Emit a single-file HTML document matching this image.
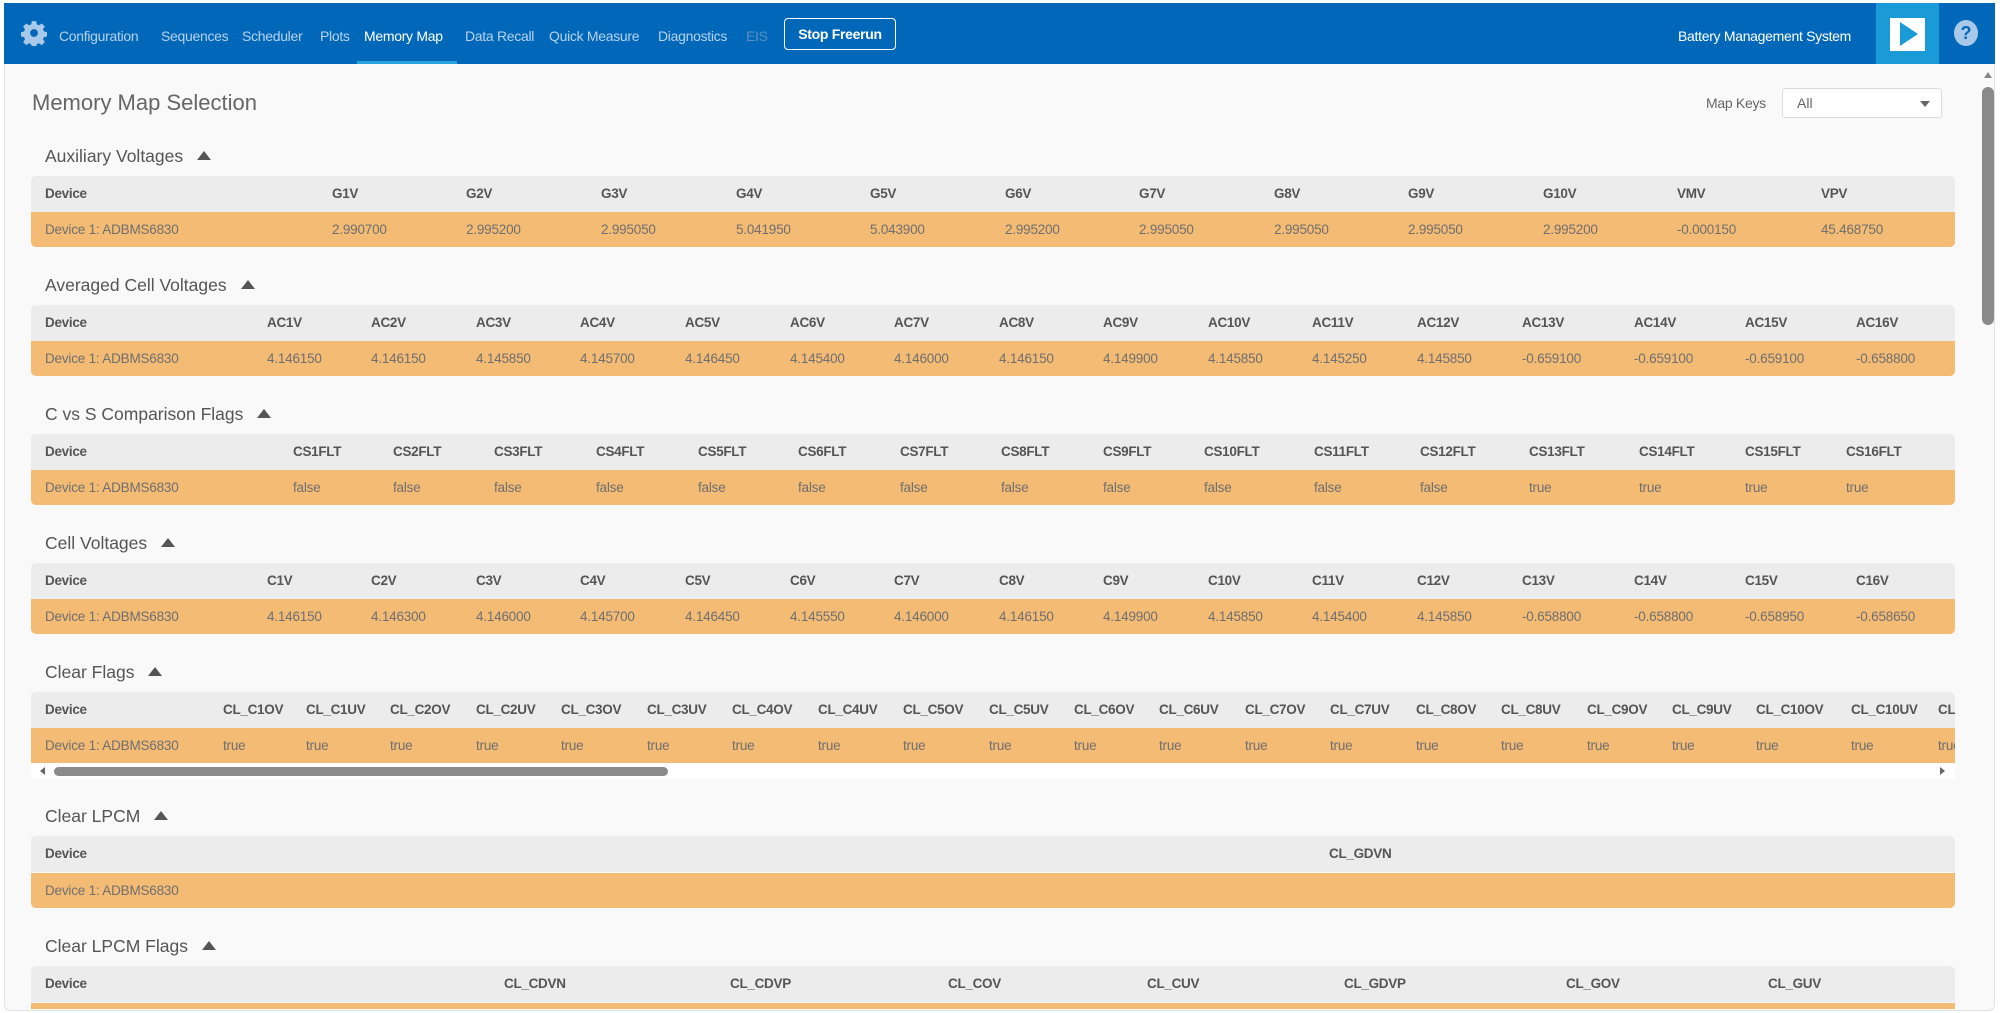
<!DOCTYPE html>
<html><head><meta charset="utf-8">
<style>
*{margin:0;padding:0;box-sizing:border-box}
body{width:2000px;height:1013px;overflow:hidden;background:#fff;font-family:"Liberation Sans",sans-serif;position:relative}
.a{position:absolute;white-space:nowrap}
#top{position:absolute;left:4px;top:3px;width:1991px;height:61px;background:#0168b9}
.nav{position:absolute;top:25px;font-size:14px;letter-spacing:-0.3px;color:#b5d2ee}
#main{position:absolute;left:4px;top:64px;width:1991px;height:947px;background:#f9f9f9;border:1px solid #e2e2e2;border-top:none;border-radius:0 0 6px 6px;overflow:hidden}
.sec{position:absolute;left:45px;font-size:17.5px;color:#555}
.tri{display:inline-block;width:0;height:0;border-left:7px solid transparent;border-right:7px solid transparent;border-bottom:9px solid #555;margin-left:14px;vertical-align:2px}
.hd{position:absolute;left:31px;width:1924px;height:36px;background:#ececec;border-radius:5px 5px 0 0}
.dt{position:absolute;left:31px;width:1924px;height:35px;background:#f4bb74;border-radius:0 0 5px 5px}
.hd span{position:absolute;top:10px;font-size:13.5px;font-weight:bold;color:#555;white-space:nowrap;letter-spacing:-0.3px}
.dt span{position:absolute;top:10px;font-size:13.5px;color:#6f6f6f;white-space:nowrap;letter-spacing:-0.2px}
</style></head><body>
<div id="top">
 <svg class="a" style="left:17px;top:17px" width="26" height="26" viewBox="0 0 24 24"><path fill="#a9c9ea" d="M10 1h4l.6 3 2 .9 2.6-1.7 2.8 2.8-1.7 2.6.9 2 3 .6v4l-3 .6-.9 2 1.7 2.6-2.8 2.8-2.6-1.7-2 .9-.6 3h-4l-.6-3-2-.9-2.6 1.7-2.8-2.8 1.7-2.6-.9-2-3-.6v-4l3-.6.9-2-1.7-2.6 2.8-2.8 2.6 1.7 2-.9z"/><circle cx="12" cy="12" r="3.6" fill="#0168b9"/></svg>
 <span class="nav" style="left:55px">Configuration</span>
 <span class="nav" style="left:157px">Sequences</span>
 <span class="nav" style="left:238px">Scheduler</span>
 <span class="nav" style="left:316px">Plots</span>
 <span class="nav" style="left:360px;color:#fff">Memory Map</span>
 <div class="a" style="left:353px;top:58px;width:100px;height:3px;background:#29a3dd"></div>
 <span class="nav" style="left:461px">Data Recall</span>
 <span class="nav" style="left:545px">Quick Measure</span>
 <span class="nav" style="left:654px">Diagnostics</span>
 <span class="nav" style="left:742px;color:#5a8fc4">EIS</span>
 <div class="a" style="left:780px;top:15px;width:112px;height:32px;border:1px solid #fff;border-radius:4px;color:#fff;font-size:14px;font-weight:bold;text-align:center;line-height:30px;letter-spacing:-0.3px">Stop Freerun</div>
 <span class="nav" style="left:1674px;color:#fff;font-size:14px">Battery Management System</span>
 <div class="a" style="left:1872px;top:0;width:63px;height:61px;background:#1a9ad6"></div>
 <div class="a" style="left:1886px;top:15px;width:35px;height:33px;background:#fff"></div>
 <div class="a" style="left:1896px;top:19px;width:0;height:0;border-top:12px solid transparent;border-bottom:12px solid transparent;border-left:18px solid #1a9ad6"></div>
 <div class="a" style="left:1950px;top:17px;width:24px;height:26px;border-radius:50%;background:#a9c9ea;color:#0168b9;font-weight:bold;font-size:18px;text-align:center;line-height:26px">?</div>
</div>
<div id="main">
 <span class="a" style="left:27px;top:26px;font-size:22px;color:#666">Memory Map Selection</span>
 <span class="a" style="left:1701px;top:31px;font-size:14px;color:#666;letter-spacing:-0.3px">Map Keys</span>
 <div class="a" style="left:1777px;top:24px;width:160px;height:30px;background:#fff;border:1px solid #ddd;border-radius:3px"><span class="a" style="left:14px;top:6px;font-size:14px;color:#666">All</span><div class="a" style="left:137px;top:12px;border-left:5px solid transparent;border-right:5px solid transparent;border-top:6px solid #666"></div></div>
 <div class="a" style="left:1977px;top:23px;width:12px;height:238px;background:#8a8a8a;border-radius:6px"></div>
 <div class="a" style="left:1979px;top:8px;border-left:4px solid transparent;border-right:4px solid transparent;border-bottom:6px solid #888"></div>
</div>
<div class="a" style="left:0;top:0;width:2000px;height:1013px">
<div class="sec" style="top:146px">Auxiliary Voltages<span class="tri"></span></div>
<div class="hd" style="top:176px"><span style="left:14px">Device</span><span style="left:301px">G1V</span><span style="left:435px">G2V</span><span style="left:570px">G3V</span><span style="left:705px">G4V</span><span style="left:839px">G5V</span><span style="left:974px">G6V</span><span style="left:1108px">G7V</span><span style="left:1243px">G8V</span><span style="left:1377px">G9V</span><span style="left:1512px">G10V</span><span style="left:1646px">VMV</span><span style="left:1790px">VPV</span></div>
<div class="dt" style="top:212px"><span style="left:14px">Device 1: ADBMS6830</span><span style="left:301px">2.990700</span><span style="left:435px">2.995200</span><span style="left:570px">2.995050</span><span style="left:705px">5.041950</span><span style="left:839px">5.043900</span><span style="left:974px">2.995200</span><span style="left:1108px">2.995050</span><span style="left:1243px">2.995050</span><span style="left:1377px">2.995050</span><span style="left:1512px">2.995200</span><span style="left:1646px">-0.000150</span><span style="left:1790px">45.468750</span></div>
<div class="sec" style="top:275px">Averaged Cell Voltages<span class="tri"></span></div>
<div class="hd" style="top:305px"><span style="left:14px">Device</span><span style="left:236px">AC1V</span><span style="left:340px">AC2V</span><span style="left:445px">AC3V</span><span style="left:549px">AC4V</span><span style="left:654px">AC5V</span><span style="left:759px">AC6V</span><span style="left:863px">AC7V</span><span style="left:968px">AC8V</span><span style="left:1072px">AC9V</span><span style="left:1177px">AC10V</span><span style="left:1281px">AC11V</span><span style="left:1386px">AC12V</span><span style="left:1491px">AC13V</span><span style="left:1603px">AC14V</span><span style="left:1714px">AC15V</span><span style="left:1825px">AC16V</span></div>
<div class="dt" style="top:341px"><span style="left:14px">Device 1: ADBMS6830</span><span style="left:236px">4.146150</span><span style="left:340px">4.146150</span><span style="left:445px">4.145850</span><span style="left:549px">4.145700</span><span style="left:654px">4.146450</span><span style="left:759px">4.145400</span><span style="left:863px">4.146000</span><span style="left:968px">4.146150</span><span style="left:1072px">4.149900</span><span style="left:1177px">4.145850</span><span style="left:1281px">4.145250</span><span style="left:1386px">4.145850</span><span style="left:1491px">-0.659100</span><span style="left:1603px">-0.659100</span><span style="left:1714px">-0.659100</span><span style="left:1825px">-0.658800</span></div>
<div class="sec" style="top:404px">C vs S Comparison Flags<span class="tri"></span></div>
<div class="hd" style="top:434px"><span style="left:14px">Device</span><span style="left:262px">CS1FLT</span><span style="left:362px">CS2FLT</span><span style="left:463px">CS3FLT</span><span style="left:565px">CS4FLT</span><span style="left:667px">CS5FLT</span><span style="left:767px">CS6FLT</span><span style="left:869px">CS7FLT</span><span style="left:970px">CS8FLT</span><span style="left:1072px">CS9FLT</span><span style="left:1173px">CS10FLT</span><span style="left:1283px">CS11FLT</span><span style="left:1389px">CS12FLT</span><span style="left:1498px">CS13FLT</span><span style="left:1608px">CS14FLT</span><span style="left:1714px">CS15FLT</span><span style="left:1815px">CS16FLT</span></div>
<div class="dt" style="top:470px"><span style="left:14px">Device 1: ADBMS6830</span><span style="left:262px">false</span><span style="left:362px">false</span><span style="left:463px">false</span><span style="left:565px">false</span><span style="left:667px">false</span><span style="left:767px">false</span><span style="left:869px">false</span><span style="left:970px">false</span><span style="left:1072px">false</span><span style="left:1173px">false</span><span style="left:1283px">false</span><span style="left:1389px">false</span><span style="left:1498px">true</span><span style="left:1608px">true</span><span style="left:1714px">true</span><span style="left:1815px">true</span></div>
<div class="sec" style="top:533px">Cell Voltages<span class="tri"></span></div>
<div class="hd" style="top:563px"><span style="left:14px">Device</span><span style="left:236px">C1V</span><span style="left:340px">C2V</span><span style="left:445px">C3V</span><span style="left:549px">C4V</span><span style="left:654px">C5V</span><span style="left:759px">C6V</span><span style="left:863px">C7V</span><span style="left:968px">C8V</span><span style="left:1072px">C9V</span><span style="left:1177px">C10V</span><span style="left:1281px">C11V</span><span style="left:1386px">C12V</span><span style="left:1491px">C13V</span><span style="left:1603px">C14V</span><span style="left:1714px">C15V</span><span style="left:1825px">C16V</span></div>
<div class="dt" style="top:599px"><span style="left:14px">Device 1: ADBMS6830</span><span style="left:236px">4.146150</span><span style="left:340px">4.146300</span><span style="left:445px">4.146000</span><span style="left:549px">4.145700</span><span style="left:654px">4.146450</span><span style="left:759px">4.145550</span><span style="left:863px">4.146000</span><span style="left:968px">4.146150</span><span style="left:1072px">4.149900</span><span style="left:1177px">4.145850</span><span style="left:1281px">4.145400</span><span style="left:1386px">4.145850</span><span style="left:1491px">-0.658800</span><span style="left:1603px">-0.658800</span><span style="left:1714px">-0.658950</span><span style="left:1825px">-0.658650</span></div>
<div class="sec" style="top:662px">Clear Flags<span class="tri"></span></div>
<div class="hd" style="top:692px;overflow:hidden;border-radius:5px 5px 0 0"><span style="left:14px">Device</span><span style="left:192px">CL_C1OV</span><span style="left:275px">CL_C1UV</span><span style="left:359px">CL_C2OV</span><span style="left:445px">CL_C2UV</span><span style="left:530px">CL_C3OV</span><span style="left:616px">CL_C3UV</span><span style="left:701px">CL_C4OV</span><span style="left:787px">CL_C4UV</span><span style="left:872px">CL_C5OV</span><span style="left:958px">CL_C5UV</span><span style="left:1043px">CL_C6OV</span><span style="left:1128px">CL_C6UV</span><span style="left:1214px">CL_C7OV</span><span style="left:1299px">CL_C7UV</span><span style="left:1385px">CL_C8OV</span><span style="left:1470px">CL_C8UV</span><span style="left:1556px">CL_C9OV</span><span style="left:1641px">CL_C9UV</span><span style="left:1725px">CL_C10OV</span><span style="left:1820px">CL_C10UV</span><span style="left:1907px">CL_C11OV</span></div>
<div class="dt" style="top:728px;overflow:hidden;border-radius:0"><span style="left:14px">Device 1: ADBMS6830</span><span style="left:192px">true</span><span style="left:275px">true</span><span style="left:359px">true</span><span style="left:445px">true</span><span style="left:530px">true</span><span style="left:616px">true</span><span style="left:701px">true</span><span style="left:787px">true</span><span style="left:872px">true</span><span style="left:958px">true</span><span style="left:1043px">true</span><span style="left:1128px">true</span><span style="left:1214px">true</span><span style="left:1299px">true</span><span style="left:1385px">true</span><span style="left:1470px">true</span><span style="left:1556px">true</span><span style="left:1641px">true</span><span style="left:1725px">true</span><span style="left:1820px">true</span><span style="left:1907px">true</span></div>
<div class="a" style="left:31px;top:763px;width:1924px;height:16px;background:#fff"></div>
<div class="a" style="left:40px;top:767px;border-top:4px solid transparent;border-bottom:4px solid transparent;border-right:5px solid #666"></div>
<div class="a" style="left:54px;top:767px;width:614px;height:9px;background:#8a8a8a;border-radius:5px"></div>
<div class="a" style="left:1940px;top:767px;border-top:4px solid transparent;border-bottom:4px solid transparent;border-left:5px solid #666"></div>
<div class="sec" style="top:806px">Clear LPCM<span class="tri"></span></div>
<div class="hd" style="top:836px"><span style="left:14px">Device</span><span style="left:1298px">CL_GDVN</span></div>
<div class="dt" style="top:873px"><span style="left:14px">Device 1: ADBMS6830</span></div>
<div class="sec" style="top:936px">Clear LPCM Flags<span class="tri"></span></div>
<div class="hd" style="top:966px"><span style="left:14px">Device</span><span style="left:473px">CL_CDVN</span><span style="left:699px">CL_CDVP</span><span style="left:917px">CL_COV</span><span style="left:1116px">CL_CUV</span><span style="left:1313px">CL_GDVP</span><span style="left:1535px">CL_GOV</span><span style="left:1737px">CL_GUV</span></div>
<div class="a" style="left:31px;top:1003px;width:1924px;height:6px;background:#f4bb74"></div>
</div>
</body></html>
